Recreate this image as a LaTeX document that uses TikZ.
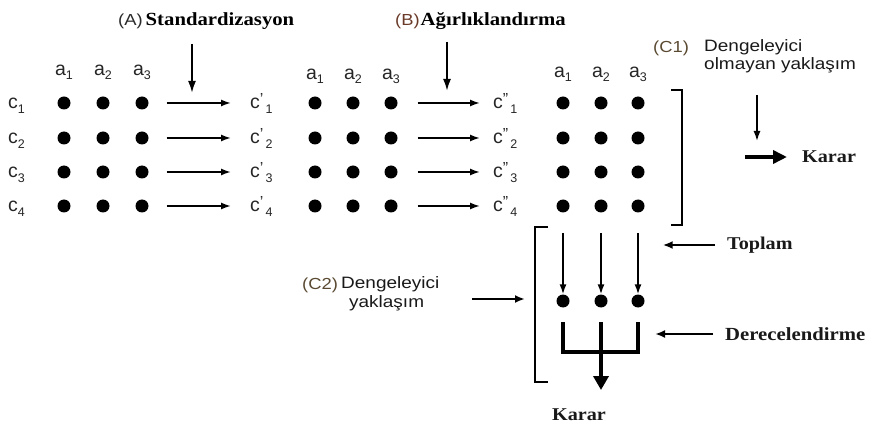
\documentclass[tikz,border=0pt]{standalone}
\usepackage{fontspec}
\setmainfont{Liberation Serif}
\setsansfont{Liberation Sans}
\newfontfamily\labsans[FakeStretch=1.15]{Liberation Sans}
\newfontfamily\labserif[FakeStretch=1.12]{Liberation Serif}
\usetikzlibrary{arrows.meta}
\definecolor{tagA}{HTML}{2A2A2A}
\definecolor{tagB}{HTML}{6A3A28}
\definecolor{tagC}{HTML}{5A4A32}
\newcommand{\subsz}{\fontsize{12.5}{12.5}\selectfont}
\newcommand{\asub}[1]{a\raisebox{-3.5pt}{\subsz #1}}
\newcommand{\csub}[1]{c\raisebox{-4.5pt}{\subsz #1}}
\newcommand{\cprm}[2]{c\raisebox{4pt}{\fontsize{16}{16}\selectfont #1}\hspace{2pt}\raisebox{-4.5pt}{\subsz #2}}
\begin{document}
\begin{tikzpicture}[x=1pt,y=-1pt,
  dot/.style={circle,fill=black,inner sep=0pt,minimum size=13pt},
  mlab/.style={font=\sffamily\fontsize{19.5}{19.5}\selectfont,inner sep=0pt,text=black!85},
  tagtext/.style={font=\labsans\fontsize{16}{16}\selectfont,inner sep=0pt},
  cdesc/.style={font=\labsans\fontsize{16.5}{16.5}\selectfont,inner sep=0pt,text=black!90},
  btext/.style={font=\labserif\bfseries\fontsize{18}{18}\selectfont,inner sep=0pt,text=black!90},
  rowarr/.style={line width=1.7pt,-{Latex[length=10pt,width=7pt]}},
  toparr/.style={line width=2pt,-{Latex[length=12pt,width=8pt]}},
  thinarr/.style={line width=1.5pt,-{Latex[length=10pt,width=7pt]}},
  sidearr/.style={line width=2pt,-{Latex[length=10pt,width=8pt]}},
  bigarr/.style={line width=4pt,-{Triangle[length=14pt,width=15pt]}},
  bracket/.style={line width=2pt},
  bar/.style={line width=4.5pt}
]
\useasboundingbox (0,0) rectangle (875,430);

% dot matrices
\foreach \r/\ry in {1/103,2/138,3/172,4/206}{
  \foreach \c/\x in {1/64,2/103,3/142} \node[dot] (L\c\r) at (\x,\ry) {};
  \foreach \c/\x in {1/315,2/353,3/391} \node[dot] (M\c\r) at (\x,\ry) {};
  \foreach \c/\x in {1/563,2/601,3/638} \node[dot] (R\c\r) at (\x,\ry) {};
  \node[mlab,anchor=base west] (c\r) at (8,\ry+6) {\csub{\r}};
  \node[mlab,anchor=base west] (cp\r) at (250,\ry+6) {\cprm{'}{\r}};
  \node[mlab,anchor=base west] (cpp\r) at (493,\ry+6) {\cprm{''}{\r}};
  \draw[rowarr,shorten <=18pt,shorten >=19pt] (L3\r.east) -- (L3\r.east -| cp\r.west);
  \draw[rowarr,shorten <=20pt,shorten >=13pt] (M3\r.east) -- (M3\r.east -| cpp\r.west);
}

% column labels
\foreach \c/\x in {1/64,2/103,3/142} \node[mlab,anchor=base] (aL\c) at (\x,76) {\asub{\c}};
\foreach \c/\x in {1/315,2/353,3/391} \node[mlab,anchor=base] (aM\c) at (\x,80) {\asub{\c}};
\foreach \c/\x in {1/563,2/601,3/638} \node[mlab,anchor=base] (aR\c) at (\x,78) {\asub{\c}};

% (A) and (B)
\node[anchor=base west,inner sep=0pt] (A) at (118,26)
  {{\labsans\fontsize{16}{16}\selectfont\color{tagA}(A)}\hspace{3pt}{\labserif\bfseries\fontsize{18.5}{18.5}\selectfont Standardizasyon}};
\node[anchor=base west,inner sep=0pt] (B) at (395,26)
  {{\labsans\fontsize{16}{16}\selectfont\color{tagB}(B)}\hspace{1pt}{\labserif\bfseries\fontsize{18.5}{18.5}\selectfont Ağırlıklandırma}};
\coordinate (Atop) at (192,44);
\coordinate (Abot) at (192,93);
\draw[toparr] (Atop) -- (Abot);
\coordinate (Btop) at (447,42);
\coordinate (Bbot) at (447,91);
\draw[toparr] (Btop) -- (Bbot);

% right bracket
\coordinate (rb1) at (671,90);
\coordinate (rb2) at (682,90);
\coordinate (rb3) at (682,225);
\coordinate (rb4) at (671,225);
\draw[bracket] (rb1) -- (rb2) -- (rb3) -- (rb4);

% (C1)
\node[tagtext,anchor=base west,text=tagC] (C1) at (653,53) {(C1)};
\node[cdesc,anchor=base west] (C1a) at (704,52) {Dengeleyici};
\node[cdesc,anchor=base west] (C1b) at (704,70) {olmayan yaklaşım};
\coordinate (C1top) at (757,95);
\coordinate (C1bot) at (757,141);
\draw[thinarr] (C1top) -- (C1bot);
\node[btext,anchor=west] (K1) at (802,157) {Karar};
\coordinate (K1s) at (745,157);
\draw[line width=4pt,-{Triangle[length=14pt,width=13pt]},shorten >=15pt] (K1s) -- (K1.west);

% left bracket
\coordinate (lb1) at (548,227);
\coordinate (lb2) at (535,227);
\coordinate (lb3) at (535,382);
\coordinate (lb4) at (548,382);
\draw[bracket] (lb1) -- (lb2) -- (lb3) -- (lb4);

% summation
\foreach \c/\x in {1/563,2/601,3/638}{
  \node[dot] (S\c) at (\x,301) {};
  \coordinate (St\c) at (\x,233);
  \draw[thinarr] (St\c) -- (S\c.north);
}
\coordinate (sb1) at (563,322);
\coordinate (sb2) at (563,352);
\coordinate (sb3) at (638,352);
\coordinate (sb4) at (638,322);
\draw[bar] (sb1) -- (sb2) -- (sb3) -- (sb4);
\coordinate (mb1) at (601,322);
\node[btext] (K2) at (579,415) {Karar};
\coordinate (mb2) at (601,390);
\draw[bigarr] (mb1) -- (mb2);

% Toplam, Derecelendirme
\node[btext,anchor=west] (T) at (727,245) {Toplam};
\draw[sidearr,shorten <=12pt,shorten >=18pt] (T.west) -- (R34.east |- T.west);
\node[btext,anchor=west,font=\labserif\bfseries\fontsize{18.5}{18.5}\selectfont] (D) at (725,334) {Derecelendirme};
\draw[sidearr,shorten <=12pt,shorten >=17pt] (D.west) -- (sb4 |- D.west);

% (C2)
\node[tagtext,anchor=base west,text=tagC] (C2) at (302,289) {(C2)};
\node[cdesc,anchor=base west] (C2a) at (341,288) {Dengeleyici};
\node[cdesc,anchor=base west] (C2b) at (349,307) {yaklaşım};
\coordinate (C2s) at (472,299);
\draw[sidearr,shorten >=10pt] (C2s) -- (lb2 |- C2s);
\end{tikzpicture}
\end{document}
